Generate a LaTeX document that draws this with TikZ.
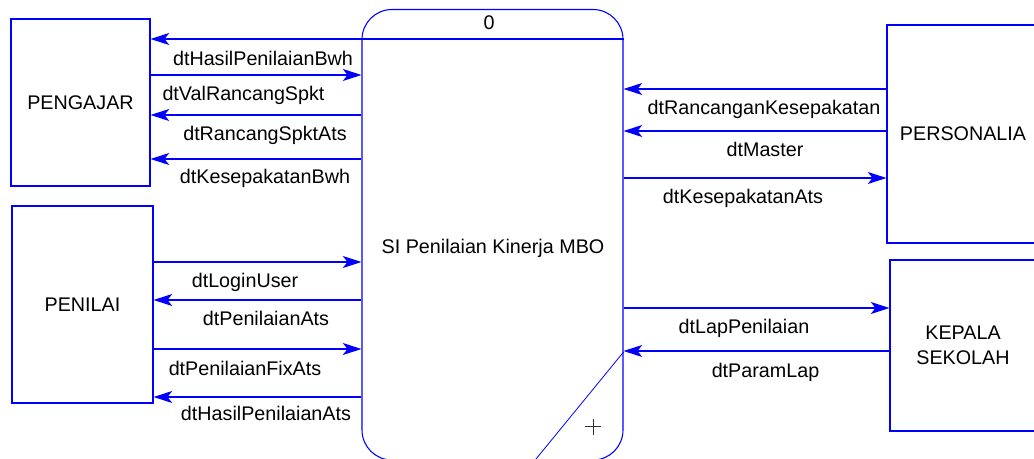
\documentclass[tikz,border=0pt]{standalone}
\usepackage{fontspec}
\setmainfont{Liberation Sans}
\usetikzlibrary{arrows.meta}
\definecolor{dfdblue}{RGB}{0,0,255}
\definecolor{markgray}{RGB}{50,50,50}
\begin{document}
\begin{tikzpicture}[x=0.75pt,y=-0.75pt,
  every node/.style={font=\fontsize{14.8}{18.75}\selectfont, text=black},
  entity/.style={draw=dfdblue, line width=0.8pt, inner sep=0pt, align=center},
  process/.style={draw=dfdblue, line width=0.8pt, rounded corners=22.5pt, inner sep=0pt},
  flow/.style={draw=dfdblue, line width=0.8pt, -{Stealth[length=14pt,width=9pt,inset=3.5pt]}},
  flowlabel/.style={anchor=base, inner sep=0pt},
]
\useasboundingbox (0,0) rectangle (1034,459);
\clip (0,0) rectangle (1034,459);

% external entities
\node[entity, minimum width=104.25pt, minimum height=125.25pt] (pengajar) at (80.5,102.5) {PENGAJAR};
\node[entity, minimum width=105.75pt, minimum height=147.75pt] (penilai) at (82.5,304.5) {PENILAI};
\node[entity, minimum width=114pt, minimum height=163.5pt] (personalia) at (963,134) {PERSONALIA};
\node[entity, minimum width=109.5pt, minimum height=128.25pt] (kepala) at (963,345.5) {KEPALA\\SEKOLAH};

% the process
\node[process, minimum width=195.75pt, minimum height=337.875pt] (proc) at (492.5,234.75) {};
\draw[dfdblue, line width=0.8pt] (proc.west |- 0,39) -- (proc.east |- 0,39);
\node[flowlabel] (procid) at (489,30) {0};
\node[flowlabel] (proctitle) at (493,254) {SI Penilaian Kinerja MBO};
\draw[dfdblue, line width=0.6pt] (proc.east |- 0,352) -- (527,470);
\draw[markgray, line width=0.7pt] (585,426.5) -- (601,426.5) (593,418.5) -- (593,434.5);

% PENGAJAR flows
\draw[flow] (proc.west |- 0,39) -- (pengajar.east |- 0,39);
\draw[flow] (pengajar.east |- 0,75) -- (proc.west |- 0,75);
\draw[flow] (proc.west |- 0,115) -- (pengajar.east |- 0,115);
\draw[flow] (proc.west |- 0,159) -- (pengajar.east |- 0,159);
\node[flowlabel] (l1) at (263,65.7) {dtHasilPenilaianBwh};
\node[flowlabel] (l2) at (243.5,101) {dtValRancangSpkt};
\node[flowlabel] (l3) at (265,141) {dtRancangSpktAts};
\node[flowlabel] (l4) at (265,184) {dtKesepakatanBwh};

% PENILAI flows
\draw[flow] (penilai.east |- 0,262) -- (proc.west |- 0,262);
\draw[flow] (proc.west |- 0,300) -- (penilai.east |- 0,300);
\draw[flow] (penilai.east |- 0,349) -- (proc.west |- 0,349);
\draw[flow] (proc.west |- 0,397) -- (penilai.east |- 0,397);
\node[flowlabel] (l5) at (245,288) {dtLoginUser};
\node[flowlabel] (l6) at (266,325.7) {dtPenilaianAts};
\node[flowlabel] (l7) at (245,375) {dtPenilaianFixAts};
\node[flowlabel] (l8) at (266,420.7) {dtHasilPenilaianAts};

% PERSONALIA flows
\draw[flow] (personalia.west |- 0,89) -- (proc.east |- 0,89);
\draw[flow] (personalia.west |- 0,131) -- (proc.east |- 0,131);
\draw[flow] (proc.east |- 0,178) -- (personalia.west |- 0,178);
\node[flowlabel] (l9) at (764,115) {dtRancanganKesepakatan};
\node[flowlabel] (l10) at (765,157) {dtMaster};
\node[flowlabel] (l11) at (743,204) {dtKesepakatanAts};

% KEPALA SEKOLAH flows
\draw[flow] (proc.east |- 0,308) -- (kepala.west |- 0,308);
\draw[flow] (kepala.west |- 0,351) -- (proc.east |- 0,351);
\node[flowlabel] (l12) at (744,334) {dtLapPenilaian};
\node[flowlabel] (l13) at (765.5,377) {dtParamLap};
\end{tikzpicture}
\end{document}
